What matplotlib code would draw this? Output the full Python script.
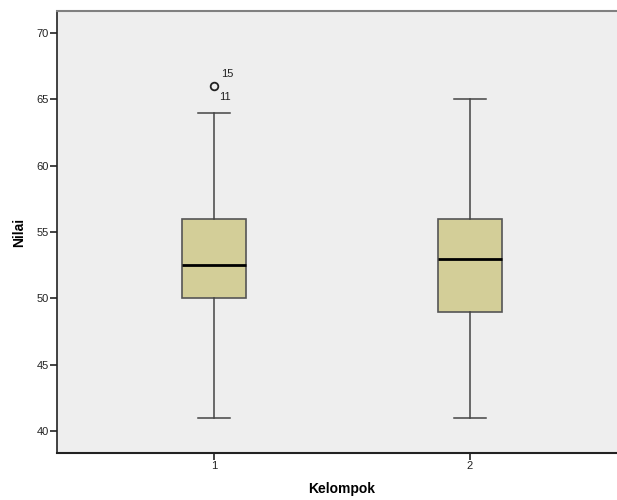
import matplotlib
matplotlib.use("Agg")
import matplotlib.pyplot as plt

plt.rcParams['font.family'] = ['Liberation Sans', 'DejaVu Sans']

# data
groups = ["1", "2"]
whislo = [41, 41]
q1 = [50, 49]
med = [52.5, 53]
q3 = [56, 56]
whishi = [64, 65]
fliers = [[66], []]
flier_ids = [["15", "11"], []]

stats = []
for i, g in enumerate(groups):
    stats.append(dict(label=g, whislo=whislo[i], q1=q1[i], med=med[i],
                      q3=q3[i], whishi=whishi[i], fliers=fliers[i]))

fig = plt.figure(figsize=(6.17, 5.0), dpi=100)
ax = fig.add_axes([57 / 617, 47 / 500, 570 / 617, 442 / 500])
ax.set_facecolor("#eeeeee")

positions = [1, 2]
ax.bxp(stats, positions=positions, widths=0.25, patch_artist=True,
       boxprops=dict(facecolor="#d3ce98", edgecolor="#555555", linewidth=1.2),
       medianprops=dict(color="black", linewidth=2.0),
       whiskerprops=dict(color="#444444", linewidth=1.1),
       capprops=dict(color="#444444", linewidth=1.1),
       capwidths=0.125,
       flierprops=dict(marker="o", markerfacecolor="none", markeredgecolor="#222222",
                       markersize=5.5, markeredgewidth=1.3))

# case labels next to outliers
for i, ids in enumerate(flier_ids):
    if not ids:
        continue
    y = fliers[i][0]
    ax.annotate(ids[0], (positions[i], y), xytext=(5, 5), textcoords="offset points",
                fontsize=8, color="#222222", ha="left", va="bottom")
    ax.annotate(ids[1], (positions[i], y), xytext=(4, -4), textcoords="offset points",
                fontsize=8, color="#222222", ha="left", va="top")

ax.set_xlim(0.387, 2.613)
ax.set_ylim(38.34, 71.66)
ax.set_yticks([40, 45, 50, 55, 60, 65, 70])
ax.set_xticks(positions)
ax.set_xticklabels(groups)
ax.tick_params(axis="both", labelsize=8, colors="#222222", length=5, width=1.2,
               pad=1)

ax.spines["right"].set_visible(False)
ax.spines["top"].set_color("#808080")
ax.spines["top"].set_linewidth(1.5)
ax.spines["left"].set_color("#222222")
ax.spines["bottom"].set_color("#222222")
ax.spines["left"].set_linewidth(1.2)
ax.spines["bottom"].set_linewidth(1.5)

ax.set_ylabel("Nilai", fontsize=10, fontweight="bold", labelpad=7)
ax.set_xlabel("Kelompok", fontsize=10, fontweight="bold", labelpad=8)

fig.savefig("out.png", dpi=100)
